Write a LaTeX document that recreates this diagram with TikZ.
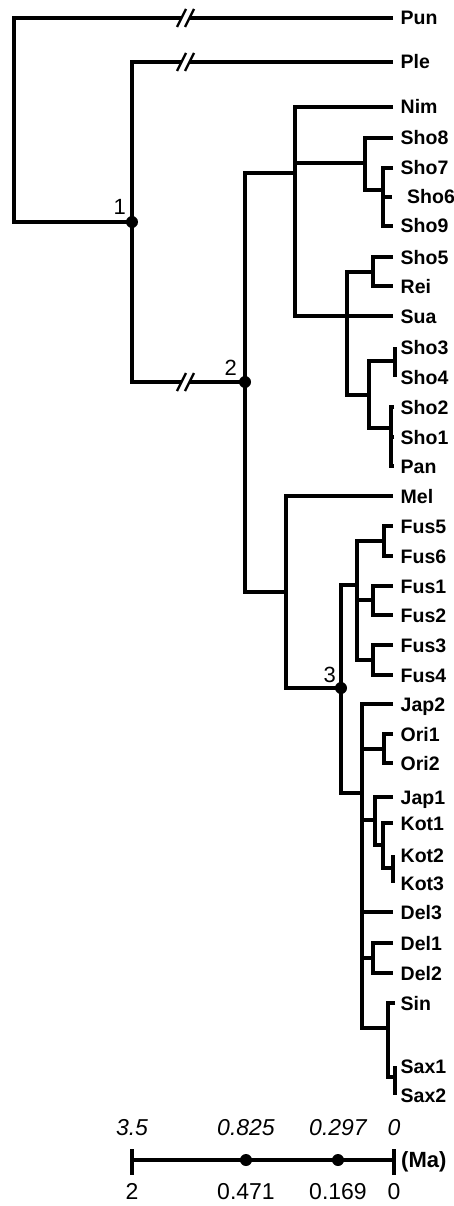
\documentclass[tikz,border=0pt]{standalone}
\usepackage{fontspec}
\setmainfont{Liberation Sans}
\usetikzlibrary{positioning, calc}
\tikzset{
  brline/.style={line width=3.2pt, draw=black, line join=miter},
  taxon/.style={font=\fontsize{19.5}{19.5}\selectfont\bfseries, inner sep=0pt, text height=14pt, text depth=0pt, anchor=west},
  nodedot/.style={circle, fill=black, inner sep=0pt, minimum size=12pt},
  numlbl/.style={font=\fontsize{22}{22}\selectfont, inner sep=0pt, text height=15.8pt, text depth=0pt},
  scaletop/.style={font=\fontsize{23}{23}\selectfont\itshape, inner sep=0pt, text height=16.5pt, text depth=0pt},
  scalebot/.style={font=\fontsize{23}{23}\selectfont, inner sep=0pt, text height=16.5pt, text depth=0pt},
  scaleunit/.style={font=\fontsize{22}{22}\selectfont\bfseries, inner sep=0pt, text height=15.8pt, text depth=0pt}
}
\newcommand{\brkmark}[1]{%
  \draw[white, line width=3.8pt] ($(#1)+(-3.5,0)$) -- ($(#1)+(4.5,0)$);
  \draw[line width=2.4pt] ($(#1)+(-8,9)$) -- ($(#1)+(1,-9)$);
  \draw[line width=2.4pt] ($(#1)+(0,9)$) -- ($(#1)+(9,-9)$);}

\begin{document}
\begin{tikzpicture}[x=1pt, y=-1pt]
\useasboundingbox (0,0) rectangle (454,1206);

% tips and taxon names
\foreach \nm/\x/\y/\lx in {Pun/393/18/0, Ple/393/62/0, Nim/393/107/0, Sho8/393/138/0,
  Sho7/393/168/0, Sho6/392/197/6.5, Sho9/393/226/0, Sho5/393/257/0, Rei/393/286/0,
  Sua/393/316/0, Sho3/395/347/0, Sho4/395/377/0, Sho2/394/407/0, Sho1/394/437/0,
  Pan/394/466/0, Mel/393/496/0, Fus5/393/526/0, Fus6/393/556/0, Fus1/393/586/0,
  Fus2/393/615/0, Fus3/393/645/0, Fus4/393/675/0, Jap2/393/704/0, Ori1/393/734/0,
  Ori2/393/763/0, Jap1/393/797/0, Kot1/393/823/0, Kot2/393/855/0, Kot3/393/883/0,
  Del3/393/912/0, Del1/393/943/0, Del2/393/973/0, Sin/395/1003/0, Sax1/395/1066/0,
  Sax2/395/1095/0}
{
  \coordinate (\nm) at (\x,\y);
  \node[taxon] (l\nm) at (400.5+\lx,\y) {\nm};
}

% internal nodes
\coordinate (root) at (14,222);
\coordinate (n1) at (132,222);
\coordinate (n2) at (245,382);
\coordinate (n3) at (341,688);
\coordinate (cNim) at (295,173);
\coordinate (cSho8) at (365,163);
\coordinate (cSho7) at (383,190);
\coordinate (cSua) at (347,316);
\coordinate (cRei) at (373,272);
\coordinate (cShoA) at (369,395);
\coordinate (cSho3) at (395,361);
\coordinate (cSho1) at (391,428);
\coordinate (cMel) at (286,592);
\coordinate (cFus) at (357,585);
\coordinate (cFus5) at (384,541);
\coordinate (cFus1) at (373,600);
\coordinate (cFus3) at (373,660);
\coordinate (cJap) at (362,793);
\coordinate (cOri) at (384,749);
\coordinate (cJap1) at (375,820);
\coordinate (cKot) at (383,845);
\coordinate (cKot2) at (393,868);
\coordinate (cDel) at (373,958);
\coordinate (cSin) at (388,1028);
\coordinate (cSax) at (395,1077);

% branches
\draw[brline] (Pun) -| (root) -- (n1);
\draw[brline] (Ple) -| (n1) |- (n2);
\draw[brline] (cNim) -| (n2) |- (cMel);
\draw[brline] (Nim) -| (cNim) |- (cSua);
\draw[brline] (cSho8) -- (cSho8 -| cNim);
\draw[brline] (Sho8) -| (cSho8) |- (cSho7);
\draw[brline] (Sho7) -| (cSho7) |- (Sho9);
\draw[brline] (Sho6) -- (Sho6 -| cSho7);
\draw[brline] (cRei) -| (cSua) |- (cShoA);
\draw[brline] (Sua) -- (Sua -| cSua);
\draw[brline] (Sho5) -| (cRei) |- (Rei);
\draw[brline] (cSho3) -| (cShoA) |- (cSho1);
\draw[brline] (Sho3) -- (Sho4);
\draw[brline] (Sho2) -| (cSho1) |- (Pan);
\draw[brline] (Sho1) -- (Sho1 -| cSho1);
\draw[brline] (Mel) -| (cMel) |- (n3);
\draw[brline] (cFus) -| (n3) |- (cJap);
\draw[brline] (cFus5) -| (cFus) |- (cFus3);
\draw[brline] (cFus1) -- (cFus1 -| cFus);
\draw[brline] (Fus5) -| (cFus5) |- (Fus6);
\draw[brline] (Fus1) -| (cFus1) |- (Fus2);
\draw[brline] (Fus3) -| (cFus3) |- (Fus4);
\draw[brline] (Jap2) -| (cJap) |- (cSin);
\foreach \c in {cOri, cJap1, Del3, cDel}
  \draw[brline] (\c) -- (\c -| cJap);
\draw[brline] (Ori1) -| (cOri) |- (Ori2);
\draw[brline] (Jap1) -| (cJap1) |- (cKot);
\draw[brline] (Kot1) -| (cKot) |- (cKot2);
\draw[brline] (Kot2) -- (Kot3);
\draw[brline] (Del1) -| (cDel) |- (Del2);
\draw[brline] (Sin) -| (cSin) |- (cSax);
\draw[brline] (Sax1) -- (Sax2);

% breaks
\coordinate (bkPun) at (185,18);
\coordinate (bkPle) at (185,62);
\coordinate (bkN2) at (185,382);
\brkmark{bkPun}
\brkmark{bkPle}
\brkmark{bkN2}

% calibrated nodes
\node[nodedot] (d1) at (n1) {};
\node[nodedot] (d2) at (n2) {};
\node[nodedot] (d3) at (n3) {};
\node[numlbl, above left=7pt and 6pt of n1] (k1) {1};
\node[numlbl, above left=6pt and 8pt of n2] (k2) {2};
\node[numlbl, above left=5pt and 5pt of n3] (k3) {3};

% time scale
\coordinate (s0) at (132,1160);
\coordinate (s1) at (246,1160);
\coordinate (s2) at (338,1160);
\coordinate (s3) at (394,1160);
\draw[brline] (s0) -- (s3);
\foreach \s in {s0, s3}
  \draw[brline] ($(\s)+(0,-11)$) -- ($(\s)+(0,15)$);
\node[nodedot] (ds1) at (s1) {};
\node[nodedot] (ds2) at (s2) {};
\foreach \s/\vA/\vB in {s0/3.5/2, s1/0.825/0.471, s2/0.297/0.169, s3/0/0}
{
  \node[scaletop, above=24pt of \s] (top\s) {\vA};
  \node[scalebot, below=23pt of \s] (bot\s) {\vB};
}
\node[scaleunit, anchor=west, right=7pt of s3] (unit) {(Ma)};

\end{tikzpicture}
\end{document}
